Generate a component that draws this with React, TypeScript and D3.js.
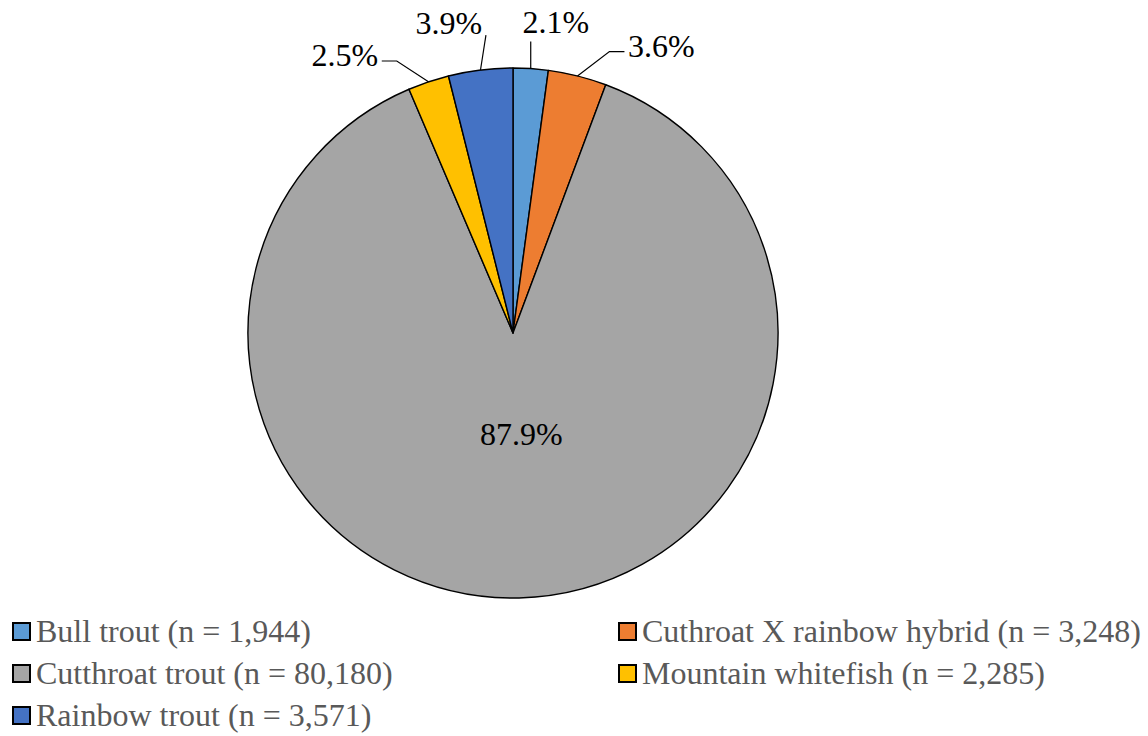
import React from 'react';
import * as d3 from 'd3';

const species = [
  'Bull trout',
  'Cuthroat X rainbow hybrid',
  'Cutthroat trout',
  'Mountain whitefish',
  'Rainbow trout',
];
const counts = [1944, 3248, 80180, 2285, 3571];
const colors = ['#5B9BD5', '#ED7D31', '#A5A5A5', '#FFC000', '#4472C4'];

const W = 1148;
const H = 736;
const cx = 513;
const cy = 333;
const R = 265;
const FONT = "'Liberation Serif', 'Times New Roman', Times, serif";
const FS = 32;

// spread outside labels so neighbours keep a minimum angular gap
function spreadAngles(angles: number[], minGap: number) {
  const order = angles.map((a, i) => i).sort((a, b) => angles[a] - angles[b]);
  const out = angles.slice();
  for (let it = 0; it < 200; it++) {
    for (let k = 0; k < order.length - 1; k++) {
      const a = order[k];
      const b = order[k + 1];
      const gap = out[b] - out[a];
      if (gap < minGap) {
        const push = (minGap - gap) / 2;
        out[a] -= push;
        out[b] += push;
      }
    }
  }
  return out;
}

export default function App() {
  const total = d3.sum(counts);
  const pie = d3.pie<number>().sort(null).value(d => d);
  const arcs = pie(counts);
  const arc = d3.arc<d3.PieArcDatum<number>>().innerRadius(0).outerRadius(R);
  const fmt = (v: number) => d3.format('.1%')(v / total);

  const hw = 33;
  const hh = 15;

  const mids = arcs.map(a => (a.startAngle + a.endAngle) / 2);
  const outside = arcs.map((a, i) => i).filter(i => counts[i] / total < 0.5);
  const signed = outside.map(i => (mids[i] > Math.PI ? mids[i] - 2 * Math.PI : mids[i]));
  const spread = spreadAngles(signed, (19.5 * Math.PI) / 180);

  const labels = arcs.map((a, i) => {
    const k = outside.indexOf(i);
    if (k < 0) {
      const d = R * 0.38;
      return { i, inside: true, lx: cx + d * Math.sin(mids[i]) + 6, ly: cy - d * Math.cos(mids[i]), mid: mids[i] };
    }
    const ang = spread[k];
    // keep the label box a fixed gap away from the rim
    const d = R + 30 + hw * Math.abs(Math.sin(ang)) + hh * Math.abs(Math.cos(ang));
    return { i, inside: false, lx: cx + d * Math.sin(ang), ly: cy - d * Math.cos(ang), mid: mids[i] };
  });

  const leader = (l: typeof labels[number]) => {
    const px = cx + R * Math.sin(l.mid);
    const py = cy - R * Math.cos(l.mid);
    if (px >= l.lx - hw + 4 && px <= l.lx + hw - 4) {
      return `M${px},${py}L${px},${l.ly + hh + 5}`;
    }
    const side = px > l.lx ? 1 : -1;
    const ex = l.lx + side * (hw + 4);
    const ey = l.ly + 6;
    if (Math.abs(px - ex) < 16) {
      return `M${px},${py}L${ex},${l.ly + 12}`;
    }
    const elx = ex + side * 15;
    return `M${px},${py}L${elx},${ey}L${ex},${ey}`;
  };

  const legendCols = [12, 618];
  const legendRows = [623, 665, 707];

  return (
    <svg width={W} height={H} style={{ position: 'absolute', left: 0, top: 0, fontFamily: FONT }}>
      <rect width={W} height={H} fill="#fff" />
      <g transform={`translate(${cx},${cy})`}>
        {arcs.map((a, i) => (
          <path key={i} d={arc(a) ?? ''} fill={colors[i]} stroke="#000" strokeWidth={1.4} strokeLinejoin="round" />
        ))}
      </g>
      {labels.filter(l => !l.inside).map(l => (
        <path key={`ld${l.i}`} d={leader(l)} fill="none" stroke="#000" strokeWidth={1.2} />
      ))}
      {labels.map(l => (
        <text key={`lb${l.i}`} x={l.lx} y={l.ly + 11} textAnchor="middle" fontSize={FS} fill="#000" style={{ fontFamily: FONT }}>
          {fmt(counts[l.i])}
        </text>
      ))}
      {counts.map((c, j) => {
        const x = legendCols[j % 2];
        const y = legendRows[Math.floor(j / 2)];
        return (
          <g key={`lg${j}`}>
            <rect x={x + 1} y={y} width={17} height={17} fill={colors[j]} stroke="#000" strokeWidth={2} />
            <text x={x + 24} y={y + 19} fontSize={FS} fill="#595959" style={{ fontFamily: FONT }}>
              {`${species[j]} (n = ${d3.format(',')(c)})`}
            </text>
          </g>
        );
      })}
    </svg>
  );
}
